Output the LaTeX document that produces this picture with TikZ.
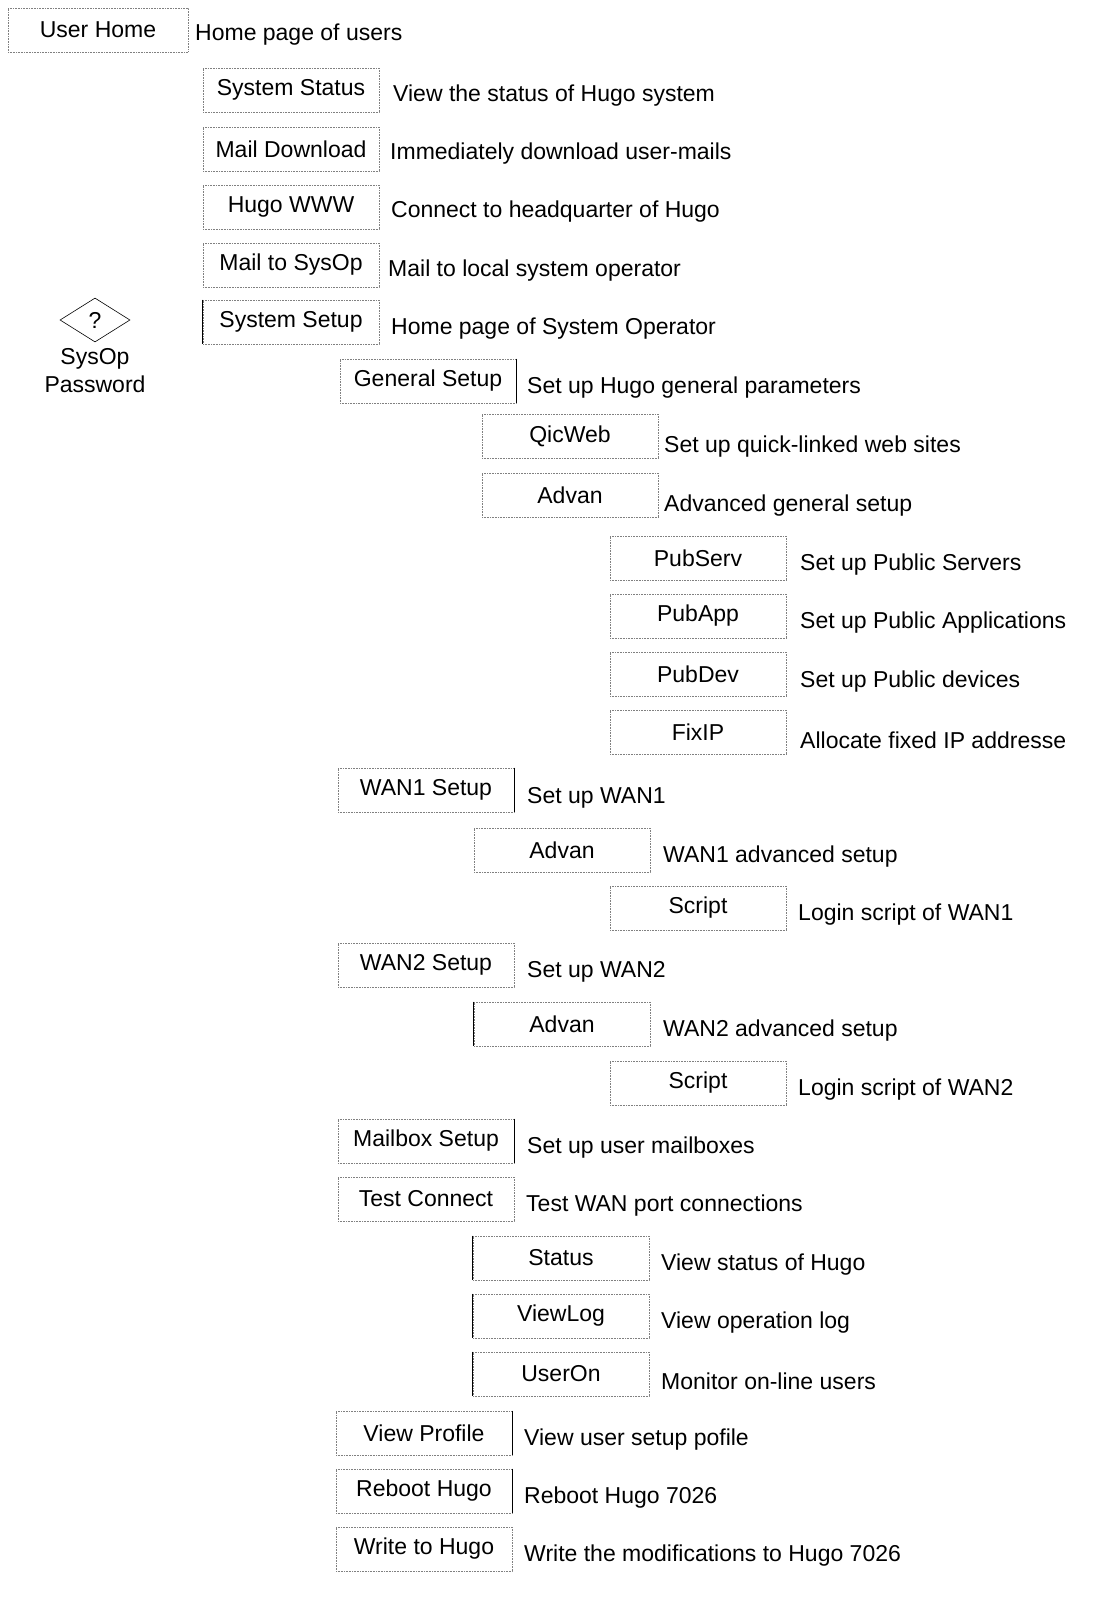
\documentclass[tikz,border=0pt]{standalone}
\usepackage{fontspec}
\setmainfont{Liberation Sans}
\usetikzlibrary{shapes.geometric}
\begin{document}
\begin{tikzpicture}[x=1pt,y=-1pt,
  every node/.style={font=\fontsize{23}{27}\selectfont, inner sep=0pt},
  menubox/.style={draw=black!50, densely dotted, line width=0.6pt, minimum width=176pt, minimum height=44pt},
  desc/.style={anchor=west},
  solidedge/.style={draw=black, line width=0.8pt}]
\useasboundingbox (0,0) rectangle (1106,1621);
\fill[white] (0,0) rectangle (1106,1621);

% level 1
\node[menubox, minimum width=180pt] (uh) at (98,30) {User Home};
\node[desc] (duh) at (195,35) {Home page of users};

% diamond
\node[diamond, draw=black, line width=0.6pt, aspect=1.6, minimum width=70pt, minimum height=44pt] (pw) at (95,320) {?};
\node (pw1) at (95,359) {SysOp};
\node (pw2) at (95,384) {Password};

% level 2
\node[menubox] (ss) at (291,90) {System Status};
\node[desc] (dss) at (393,96) {View the status of Hugo system};
\node[menubox] (md) at (291,149) {Mail Download};
\node[desc] (dmd) at (390,154) {Immediately download user-mails};
\node[menubox] (hw) at (291,207) {Hugo WWW};
\node[desc] (dhw) at (391,212) {Connect to headquarter of Hugo};
\node[menubox] (ms) at (291,265) {Mail to SysOp};
\node[desc] (dms) at (388,271) {Mail to local system operator};
\node[menubox] (sy) at (291,322) {System Setup};
\node[desc] (dsy) at (391,329) {Home page of System Operator};

% level 3
\node[menubox] (gs) at (428,381) {General Setup};
\node[desc] (dgs) at (527,388) {Set up Hugo general parameters};
\node[menubox] (w1) at (426,790) {WAN1 Setup};
\node[desc] (dw1) at (527,798) {Set up WAN1};
\node[menubox] (w2) at (426,965) {WAN2 Setup};
\node[desc] (dw2) at (527,972) {Set up WAN2};
\node[menubox] (mb) at (426,1141) {Mailbox Setup};
\node[desc] (dmb) at (527,1148) {Set up user mailboxes};
\node[menubox] (tc) at (426,1199) {Test Connect};
\node[desc] (dtc) at (526,1206) {Test WAN port connections};
\node[menubox] (vp) at (424,1433) {View Profile};
\node[desc] (dvp) at (524,1440) {View user setup pofile};
\node[menubox] (rb) at (424,1491) {Reboot Hugo};
\node[desc] (drb) at (524,1498) {Reboot Hugo 7026};
\node[menubox] (wh) at (424,1549) {Write to Hugo};
\node[desc] (dwh) at (524,1556) {Write the modifications to Hugo 7026};

% level 4
\node[menubox] (qw) at (570,436) {QicWeb};
\node[desc] (dqw) at (664,447) {Set up quick-linked web sites};
\node[menubox] (av) at (570,495) {Advan};
\node[desc] (dav) at (664,506) {Advanced general setup};
\node[menubox] (a1) at (562,850) {Advan};
\node[desc] (da1) at (663,857) {WAN1 advanced setup};
\node[menubox] (a2) at (562,1024) {Advan};
\node[desc] (da2) at (663,1031) {WAN2 advanced setup};
\node[menubox] (st) at (561,1258) {Status};
\node[desc] (dst) at (661,1265) {View status of Hugo};
\node[menubox] (vl) at (561,1316) {ViewLog};
\node[desc] (dvl) at (661,1323) {View operation log};
\node[menubox] (uo) at (561,1374) {UserOn};
\node[desc] (duo) at (661,1381) {Monitor on-line users};

% level 5
\node[menubox] (ps) at (698,558) {PubServ};
\node[desc] (dps) at (800,565) {Set up Public Servers};
\node[menubox] (pa) at (698,616) {PubApp};
\node[desc] (dpa) at (800,623) {Set up Public Applications};
\node[menubox] (pd) at (698,674) {PubDev};
\node[desc] (dpd) at (800,682) {Set up Public devices};
\node[menubox] (fi) at (698,732) {FixIP};
\node[desc] (dfi) at (800,740) {Allocate fixed IP addresse};
\node[menubox] (s1) at (698,908) {Script};
\node[desc] (ds1) at (798,915) {Login script of WAN1};
\node[menubox] (s2) at (698,1083) {Script};
\node[desc] (ds2) at (798,1090) {Login script of WAN2};

% solid edges visible in the reference
\draw[solidedge] (sy.north west) -- (sy.south west);
\draw[solidedge] (gs.north east) -- (gs.south east);
\draw[solidedge] (w1.north east) -- (w1.south east);
\draw[solidedge] (a2.north west) -- (a2.south west);
\draw[solidedge] (mb.north east) -- (mb.south east);
\draw[solidedge] (st.north west) -- (st.south west);
\draw[solidedge] (vl.north west) -- (vl.south west);
\draw[solidedge] (uo.north west) -- (uo.south west);
\draw[solidedge] (vp.north east) -- (vp.south east);
\draw[solidedge] (rb.north east) -- (rb.south east);
\end{tikzpicture}
\end{document}
